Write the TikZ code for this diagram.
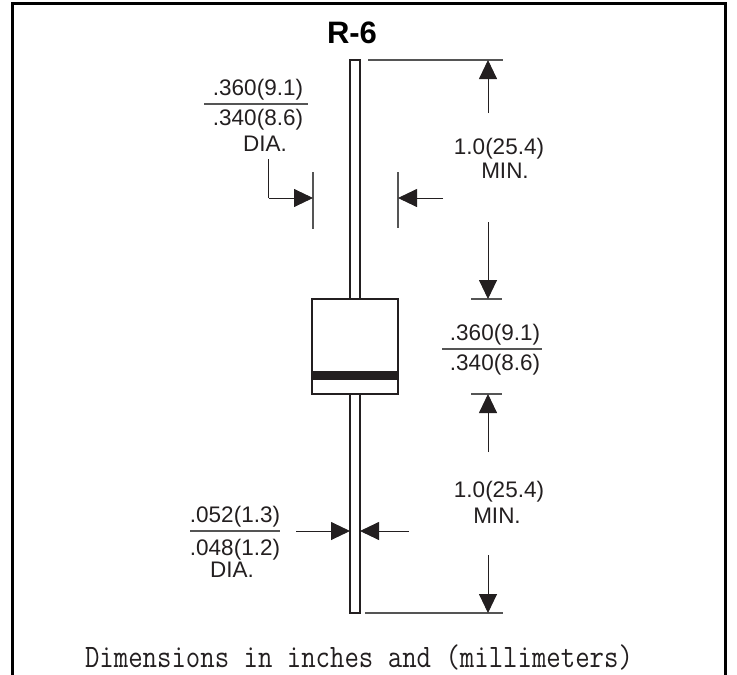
\documentclass[tikz,border=0pt]{standalone}
\usepackage{fontspec}
\usepackage{graphicx}
\setmainfont{Liberation Sans}
\newfontfamily\captionmono{Latin Modern Mono}
\usetikzlibrary{arrows.meta}
\definecolor{ink}{HTML}{231F20}
\definecolor{rule}{HTML}{555555}
\tikzset{
  x=1pt,y=-1pt,
  framepath/.style={draw=black,line width=3pt},
  partbox/.style={draw=ink,fill=white,line width=1.3pt,rectangle,inner sep=0pt,outer sep=0pt,anchor=north west},
  bandbox/.style={draw=none,fill=ink,rectangle,inner sep=0pt,outer sep=0pt,anchor=north west},
  extline/.style={draw=rule,line width=1.2pt},
  fracline/.style={draw=rule,line width=1.2pt},
  dimarrow/.style={draw=ink,line width=0.9pt,-{Triangle[length=19pt,width=18pt,fill=ink]}},
  elbowline/.style={draw=ink,line width=0.9pt},
  dimtext/.style={text=ink,font=\fontsize{22.5}{24}\selectfont,inner sep=0pt,anchor=base},
  titletext/.style={text=black,font=\fontsize{31}{33}\selectfont\bfseries,inner sep=0pt,anchor=base},
  captiontext/.style={text=ink,font=\fontsize{28}{30}\selectfont\captionmono,inner sep=0pt,anchor=base}
}
\begin{document}
\begin{tikzpicture}
\useasboundingbox (0,0) rectangle (737,675);
% frame (open at the bottom)
\coordinate (fbl) at (12,675);
\coordinate (ftl) at (12,3);
\coordinate (ftr) at (725,3);
\coordinate (fbr) at (725,675);
\draw[framepath] (fbl) -- (ftl) -- (ftr) -- (fbr);
% part
\node[partbox,minimum width=10pt,minimum height=239pt] (leadtop) at (350,60) {};
\node[partbox,minimum width=10pt,minimum height=219pt] (leadbot) at (350,394) {};
\node[partbox,minimum width=86pt,minimum height=95pt] (body) at (312,299) {};
\node[bandbox,minimum width=86pt,minimum height=9pt] (band) at (312,371) {};
% title
\node[titletext] (title) at (352,43) {R-6};
% extension lines right
\coordinate (e1a) at (368,60);  \coordinate (e1b) at (503,60);
\coordinate (e2a) at (471,299); \coordinate (e2b) at (502,299);
\coordinate (e3a) at (471,394); \coordinate (e3b) at (502,394);
\coordinate (e4a) at (365,613); \coordinate (e4b) at (503,613);
\draw[extline] (e1a) -- (e1b);
\draw[extline] (e2a) -- (e2b);
\draw[extline] (e3a) -- (e3b);
\draw[extline] (e4a) -- (e4b);
% upper 1.0 dimension
\coordinate (a1s) at (488,113); \coordinate (a1t) at (488,60);
\coordinate (a2s) at (488,222); \coordinate (a2t) at (488,299);
\draw[dimarrow] (a1s) -- (a1t);
\draw[dimarrow] (a2s) -- (a2t);
\node[dimtext] (upval) at (499,154) {1.0(25.4)};
\node[dimtext] (upmin) at (505,178) {MIN.};
% body dimension
\node[dimtext] (bodya) at (495,340) {.360(9.1)};
\coordinate (bfa) at (442,349); \coordinate (bfb) at (542,349);
\draw[fracline] (bfa) -- (bfb);
\node[dimtext] (bodyb) at (495,370) {.340(8.6)};
% lower 1.0 dimension
\coordinate (a3s) at (488,452); \coordinate (a3t) at (488,394);
\coordinate (a4s) at (488,555); \coordinate (a4t) at (488,613);
\draw[dimarrow] (a3s) -- (a3t);
\draw[dimarrow] (a4s) -- (a4t);
\node[dimtext] (lowval) at (499,497) {1.0(25.4)};
\node[dimtext] (lowmin) at (497,523) {MIN.};
% body diameter, upper left
\node[dimtext] (diaa) at (258,95) {.360(9.1)};
\coordinate (dfa) at (204,104); \coordinate (dfb) at (308,104);
\draw[fracline] (dfa) -- (dfb);
\node[dimtext] (diab) at (258,125) {.340(8.6)};
\node[dimtext] (diac) at (265,151) {DIA.};
\coordinate (t1a) at (313,172); \coordinate (t1b) at (313,229);
\coordinate (t2a) at (398,172); \coordinate (t2b) at (398,228);
\draw[extline] (t1a) -- (t1b);
\draw[extline] (t2a) -- (t2b);
\coordinate (el0) at (268.5,159); \coordinate (el1) at (268.5,198);
\coordinate (el2) at (313,198);
\draw[elbowline] (el0) -- (el1);
\draw[dimarrow] (el1) -- (el2);
\coordinate (ra) at (443,198); \coordinate (rb) at (398,198);
\draw[dimarrow] (ra) -- (rb);
% lead diameter
\node[dimtext] (lda) at (235,522) {.052(1.3)};
\coordinate (lfa) at (190,531); \coordinate (lfb) at (280,531);
\draw[fracline] (lfa) -- (lfb);
\node[dimtext] (ldb) at (235,555) {.048(1.2)};
\node[dimtext] (ldc) at (232,577) {DIA.};
\coordinate (l1s) at (296,531); \coordinate (l1t) at (350,531);
\coordinate (l2s) at (409,531); \coordinate (l2t) at (360,531);
\draw[dimarrow] (l1s) -- (l1t);
\draw[dimarrow] (l2s) -- (l2t);
% caption
\node[captiontext] (caption) at (359,667) {\scalebox{1}[1.17]{Dimensions in inches and (millimeters)}};
\end{tikzpicture}
\end{document}
